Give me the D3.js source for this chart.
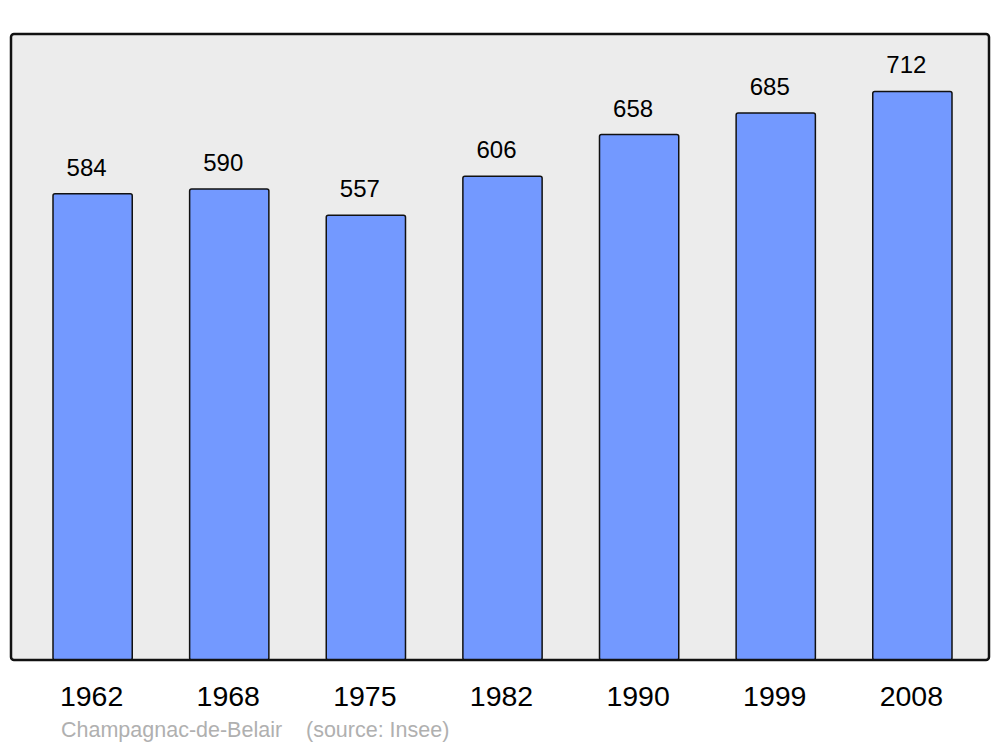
<!DOCTYPE html>
<html>
<head>
<meta charset="utf-8">
<script src="https://cdn.jsdelivr.net/npm/d3@7"></script>
<style>
  body { margin: 0; background: #fff; }
  text { font-family: "Liberation Sans", Arial, sans-serif; }
</style>
</head>
<body>
<div id="chart"></div>
<script>
// population data
const years = ["1962", "1968", "1975", "1982", "1990", "1999", "2008"];
const population = [584, 590, 557, 606, 658, 685, 712];
const commune = "Champagnac-de-Belair";
const source = "(source: Insee)";

const width = 1000,
    height = 747,
    panel = ({ left: 11, top: 34, right: 989, bottom: 660 });

const svg = d3.select("#chart")
    .append("svg")
    .attr("width", width)
    .attr("height", height);

const data = years.map((y, i) => ({ year: y, value: population[i] }));

let x = d3.scaleBand()
    .domain(years)
    .range([53, 952])
    .paddingInner(0.42)
    .paddingOuter(0);

let y = d3.scaleLinear()
    .domain([0, 784])
    .range([panel.bottom, panel.top]);

// grey background panel
svg.append("rect")
    .attr("x", panel.left)
    .attr("y", panel.top)
    .attr("width", panel.right - panel.left)
    .attr("height", panel.bottom - panel.top)
    .attr("rx", 3)
    .attr("fill", "#ececec")
    .attr("stroke", "none");

// bars
svg.append("g")
  .selectAll("rect")
  .data(data)
  .join("rect")
    .attr("x", d => x(d.year))
    .attr("y", d => y(d.value))
    .attr("width", x.bandwidth())
    .attr("height", d => y(0) - y(d.value))
    .attr("rx", 2)
    .attr("fill", "#7399ff")
    .attr("stroke", "#111")
    .attr("stroke-width", 1.5);

// panel border on top
svg.append("rect")
    .attr("x", panel.left)
    .attr("y", panel.top)
    .attr("width", panel.right - panel.left)
    .attr("height", panel.bottom - panel.top)
    .attr("rx", 3)
    .attr("fill", "none")
    .attr("stroke", "#111")
    .attr("stroke-width", 2.5);

// value labels
svg.append("g")
  .selectAll("text")
  .data(data)
  .join("text")
    .attr("x", d => x(d.year) + x.bandwidth() / 2 - 6)
    .attr("y", d => y(d.value) - 18)
    .attr("text-anchor", "middle")
    .attr("font-size", 24)
    .attr("fill", "#000")
    .text(d => d.value);

// year labels
svg.append("g")
  .selectAll("text")
  .data(data)
  .join("text")
    .attr("x", d => x(d.year) + x.bandwidth() / 2 - 1)
    .attr("y", 706)
    .attr("text-anchor", "middle")
    .attr("font-size", 28.5)
    .attr("fill", "#000")
    .text(d => d.year);

svg.append("text")
    .attr("x", 61)
    .attr("y", 737)
    .attr("font-size", 21.5)
    .attr("fill", "#b0b0b0")
    .attr("xml:space", "preserve")
    .text(commune + "    " + source);
</script>
</body>
</html>
